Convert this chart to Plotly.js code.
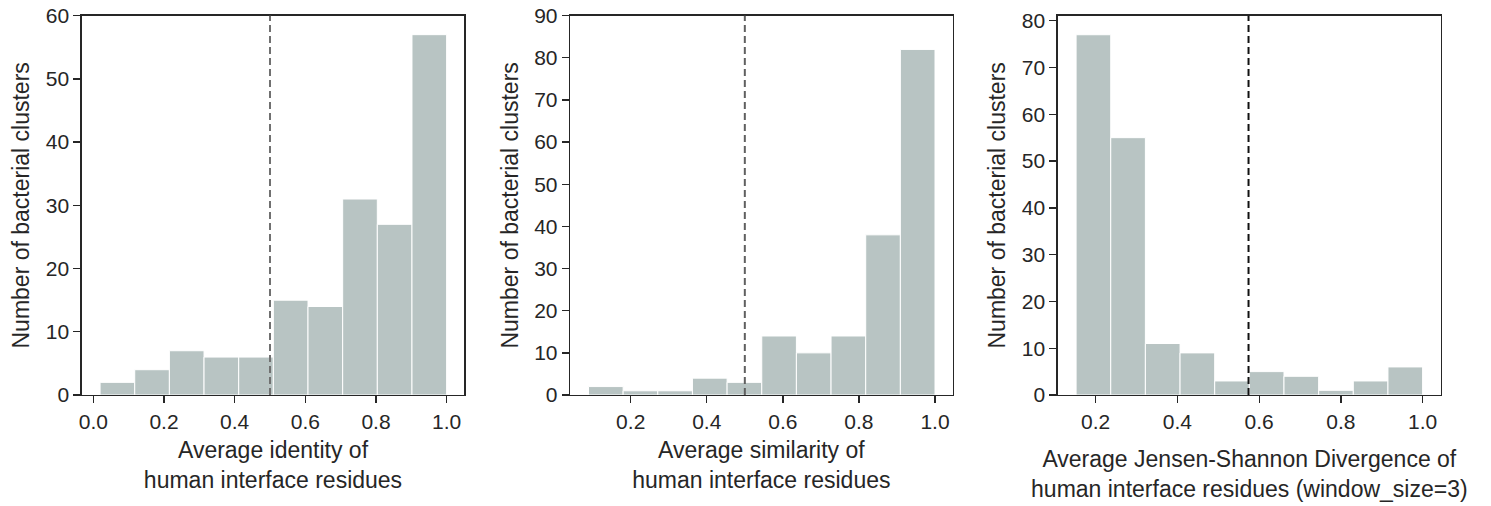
<!DOCTYPE html>
<html>
<head>
<meta charset="utf-8">
<script src="https://cdn.plot.ly/plotly-3.0.1.min.js"></script>
<style>
  html, body { margin: 0; padding: 0; background: #ffffff; }
  #chart { width: 1491px; height: 506px; }
</style>
</head>
<body>
<div id="chart"></div>
<script>
// ---- Data ----
// Panel 1: Average identity
const identityBinStart = 0.019;
const identityBinWidth = 0.0981;
const identityCounts = [2, 4, 7, 6, 6, 15, 14, 31, 27, 57];
const identityThreshold = 0.5;

// Panel 2: Average similarity
const similarityBinStart = 0.089;
const similarityBinWidth = 0.0911;
const similarityCounts = [2, 1, 1, 4, 3, 14, 10, 14, 38, 82];
const similarityThreshold = 0.5;

// Panel 3: Average Jensen-Shannon divergence
const jsdBinStart = 0.152;
const jsdBinWidth = 0.0848;
const jsdCounts = [77, 55, 11, 9, 3, 5, 4, 1, 3, 6];
const jsdThreshold = 0.574;

const xTitles = [
  "Average identity of<br>human interface residues",
  "Average similarity of<br>human interface residues",
  "Average Jensen-Shannon Divergence of<br>human interface residues (window_size=3)"
];
const yTitle = "Number of bacterial clusters";

// ---- Styling ----
const FONT = "Liberation Sans, Arial, Helvetica, sans-serif";
const TEXT = "#262626";
const BAR = "#b8c4c3";

function centers(start, width, counts) {
  return counts.map((_, i) => start + width * (i + 0.5));
}

function barTrace(start, width, counts, axisIdx) {
  const suffix = axisIdx === 1 ? "" : String(axisIdx);
  return {
    type: "bar",
    x: centers(start, width, counts),
    y: counts,
    width: counts.map(() => width),
    marker: { color: BAR, line: { color: "#ffffff", width: 1 } },
    xaxis: "x" + suffix,
    yaxis: "y" + suffix,
    hoverinfo: "x+y",
    showlegend: false
  };
}

const data = [
  barTrace(identityBinStart, identityBinWidth, identityCounts, 1),
  barTrace(similarityBinStart, similarityBinWidth, similarityCounts, 2),
  barTrace(jsdBinStart, jsdBinWidth, jsdCounts, 3)
];

function xAxis(domain, range, tickvals, title, standoff, anchor) {
  return {
    domain: domain, range: range, anchor: anchor,
    tickvals: tickvals, tickformat: ".1f",
    ticks: "outside", ticklen: 7, tickwidth: 1.3, tickcolor: TEXT,
    showline: true, linecolor: TEXT, linewidth: 1.3, mirror: true,
    showgrid: false, zeroline: false,
    tickfont: { family: FONT, size: 21, color: TEXT },
    title: { text: title, font: { family: FONT, size: 23, color: TEXT }, standoff: standoff },
    automargin: false
  };
}
function yAxis(domain, range, dtick, anchor) {
  return {
    domain: domain, range: range, anchor: anchor,
    tick0: 0, dtick: dtick,
    ticks: "outside", ticklen: 7, tickwidth: 1.3, tickcolor: TEXT,
    showline: true, linecolor: TEXT, linewidth: 1.3, mirror: true,
    showgrid: false, zeroline: false,
    tickfont: { family: FONT, size: 21, color: TEXT },
    title: { text: yTitle, font: { family: FONT, size: 23, color: TEXT }, standoff: 9 },
    automargin: false
  };
}

const yDom = [1 - 395 / 506, 1 - 15.7 / 506];

const layout = {
  width: 1491, height: 506,
  margin: { l: 0, r: 0, t: 0, b: 0 },
  paper_bgcolor: "#ffffff", plot_bgcolor: "#ffffff",
  bargap: 0,
  font: { family: FONT, color: TEXT },
  xaxis: xAxis([81.7 / 1491, 464.3 / 1491], [-0.033, 1.05], [0, 0.2, 0.4, 0.6, 0.8, 1.0], xTitles[0], 10, "y"),
  yaxis: yAxis(yDom, [0, 60], 10, "x"),
  xaxis2: xAxis([570 / 1491, 952.7 / 1491], [0.0404, 1.0465], [0.2, 0.4, 0.6, 0.8, 1.0], xTitles[1], 10, "y2"),
  yaxis2: yAxis(yDom, [0, 90], 10, "x2"),
  xaxis3: xAxis([1057.7 / 1491, 1441 / 1491], [0.107, 1.045], [0.2, 0.4, 0.6, 0.8, 1.0], xTitles[2], 19, "y3"),
  yaxis3: yAxis(yDom, [0, 81.07], 10, "x3"),
  shapes: [
    { type: "line", xref: "x", yref: "y domain", x0: identityThreshold, x1: identityThreshold, y0: 0, y1: 1,
      line: { color: "#707070", width: 2, dash: "7px,4px" } },
    { type: "line", xref: "x2", yref: "y2 domain", x0: similarityThreshold, x1: similarityThreshold, y0: 0, y1: 1,
      line: { color: "#606060", width: 2, dash: "7px,4px" } },
    { type: "line", xref: "x3", yref: "y3 domain", x0: jsdThreshold, x1: jsdThreshold, y0: 0, y1: 1,
      line: { color: "#111111", width: 2, dash: "7px,4px" } }
  ]
};

Plotly.newPlot("chart", data, layout, { displayModeBar: false, staticPlot: true });
</script>
</body>
</html>
